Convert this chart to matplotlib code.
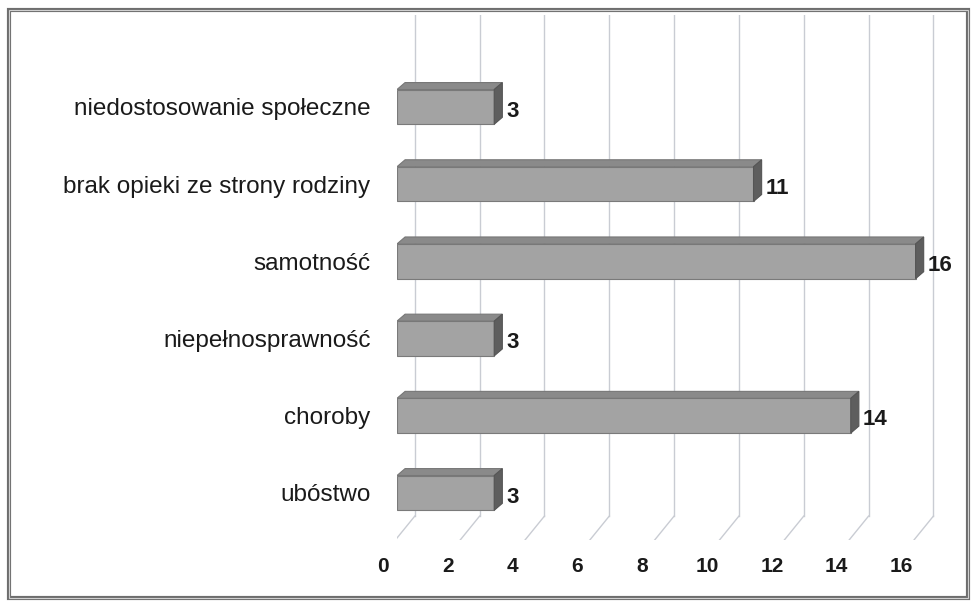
import numpy as np
import matplotlib
matplotlib.use('Agg')
import matplotlib.pyplot as plt
from matplotlib.patches import Polygon, Rectangle
from matplotlib.transforms import ScaledTranslation

#-----
# data (bottom to top)
categories = ['ubóstwo', 'choroby', 'niepełnosprawność', 'samotność',
              'brak opieki ze strony rodziny', 'niedostosowanie społeczne']
values = [3, 14, 3, 16, 11, 3]
xticks = [0, 2, 4, 6, 8, 10, 12, 14, 16]
#-----

plt.rcParams['font.family'] = ['Liberation Sans', 'DejaVu Sans']

fig = plt.figure(figsize=(9.72, 6.12), dpi=100)
ax = fig.add_axes([397/972, 1-540/612, 551/972, 525/612])
ax.set_xlim(0, 17)
ax.set_ylim(-0.61, 6.19)

h = 0.45       # bar height
dx = 0.25      # 3d depth (x, data units)
dy = 0.09      # 3d depth (y, data units)
gx = 0.55      # back wall offset of gridlines
floor_back = -0.3
floor_front = -0.61

# gridlines on back wall + floor
for t in xticks:
  ax.plot([t+gx, t+gx], [floor_back, 6.19], color='#c9ccd3', lw=1, zorder=0)
  ax.plot([t+gx, t+gx-0.6], [floor_back, floor_front], color='#c9ccd3', lw=1, zorder=0)

ypos = np.arange(len(categories))
for y, v in zip(ypos, values):
  top = y + h/2
  bot = y - h/2
  front = Rectangle((0, bot), v, h, facecolor='#a3a3a3', edgecolor='#7a7a7a', lw=0.8, zorder=3)
  topf = Polygon([(0, top), (v, top), (v+dx, top+dy), (dx, top+dy)],
                 closed=True, facecolor='#8a8a8a', edgecolor='#777777', lw=0.8, zorder=3)
  side = Polygon([(v, bot), (v, top), (v+dx, top+dy), (v+dx, bot+dy)],
                 closed=True, facecolor='#5e5e5e', edgecolor='#555555', lw=0.8, zorder=3)
  ax.add_patch(front)
  ax.add_patch(topf)
  ax.add_patch(side)
  ax.annotate(str(v), (v+dx, y), xytext=(3, -3), textcoords='offset points',
              ha='left', va='center', fontsize=16, fontweight='bold', color='#1a1a1a')

ax.set_yticks(ypos)
ax.set_yticklabels(categories, fontsize=17.5, color='#1a1a1a')
ax.set_xticks(xticks)
ax.set_xticklabels([str(t) for t in xticks], fontsize=15, fontweight='bold', color='#1a1a1a')
ax.tick_params(axis='y', length=0, pad=19)
ax.tick_params(axis='x', length=0, pad=12)
for lab in ax.get_xticklabels():
  lab.set_transform(lab.get_transform() + ScaledTranslation(-0.14, 0, fig.dpi_scale_trans))
for s in ax.spines.values():
  s.set_visible(False)

# frame around the chart
fig.patches.append(Rectangle((9/972, 1-598/612), 959/972, 588/612, transform=fig.transFigure,
                             fill=False, edgecolor='#6e6e6e', lw=3))
fig.patches.append(Rectangle((9/972, 1-598/612), 959/972, 588/612, transform=fig.transFigure,
                             fill=False, edgecolor='#d0d0d0', lw=0.8))

fig.savefig('out.png', dpi=100)
